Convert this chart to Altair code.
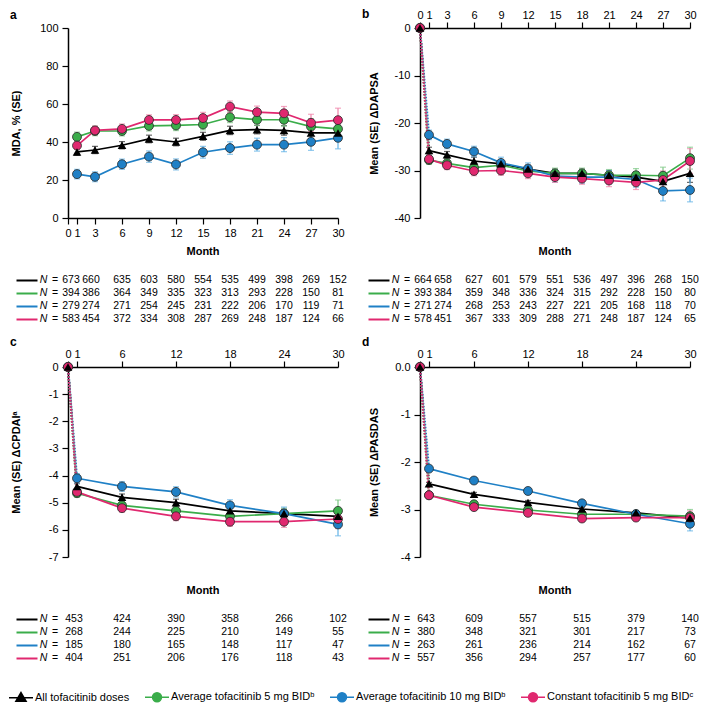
import altair as alt
import pandas as pd

FONT = "Liberation Sans"
KEYS = ["all", "avg5", "avg10", "const5"]
SERIES = [
    "All tofacitinib doses",
    "Average tofacitinib 5 mg BIDᵇ",
    "Average tofacitinib 10 mg BIDᵇ",
    "Constant tofacitinib 5 mg BIDᶜ",
]
COLORS = ["#000000", "#3aad4a", "#1f80c6", "#e0286f"]
LIGHT = ["#2b2b2b", "#7cc784", "#62b2e6", "#ef82a8"]

# ---------------- panel a: MDA, % ----------------
MONTHS_A = [1, 3, 6, 9, 12, 15, 18, 21, 24, 27, 30]
MDA_ALL = [34.8, 35.8, 38.3, 41.6, 40.0, 43.0, 46.1, 46.5, 46.1, 44.8, 44.8]
MDA_AVG5 = [42.7, 45.8, 45.8, 48.5, 48.7, 49.2, 53.0, 51.7, 51.7, 48.1, 46.9]
MDA_AVG10 = [23.1, 21.7, 28.3, 32.3, 28.2, 34.6, 36.8, 38.6, 38.6, 40.1, 42.2]
MDA_CONST5 = [38.1, 46.1, 46.9, 51.6, 51.6, 52.6, 58.6, 55.7, 55.1, 50.1, 51.5]
MDA_SE_ALL = [1.8, 1.9, 1.9, 2.0, 2.0, 2.1, 2.2, 2.2, 2.5, 3.0, 4.0]
MDA_SE_AVG5 = [2.5, 2.5, 2.6, 2.7, 2.7, 2.8, 2.8, 2.9, 3.3, 4.1, 5.5]
MDA_SE_AVG10 = [2.5, 2.6, 2.7, 3.0, 2.9, 3.1, 3.3, 3.4, 3.7, 4.5, 5.8]
MDA_SE_CONST5 = [2.0, 2.3, 2.6, 2.7, 2.8, 3.0, 3.0, 3.2, 3.6, 4.5, 6.3]
N_A_ALL = [673, 660, 635, 603, 580, 554, 535, 499, 398, 269, 152]
N_A_AVG5 = [394, 386, 364, 349, 335, 323, 313, 293, 228, 150, 81]
N_A_AVG10 = [279, 274, 271, 254, 245, 231, 222, 206, 170, 119, 71]
N_A_CONST5 = [583, 454, 372, 334, 308, 287, 269, 248, 187, 124, 66]

# ---------------- panel b: change in DAPSA ----------------
MONTHS_B = [0, 1, 3, 6, 9, 12, 15, 18, 21, 24, 27, 30]
DAPSA_ALL = [0, -25.8, -26.7, -28.0, -28.6, -29.7, -30.6, -30.6, -31.0, -31.4, -32.3, -30.6]
DAPSA_AVG5 = [0, -27.8, -28.5, -29.4, -28.9, -30.1, -30.6, -30.6, -31.0, -31.0, -31.1, -27.4]
DAPSA_AVG10 = [0, -22.5, -24.4, -26.0, -28.4, -29.6, -31.2, -31.4, -31.4, -31.9, -34.3, -34.1]
DAPSA_CONST5 = [0, -27.6, -28.9, -30.1, -30.0, -30.6, -31.4, -31.7, -32.1, -32.5, -32.0, -28.0]
DAPSA_SE_ALL = [0, 0.7, 0.7, 0.8, 0.8, 0.8, 0.9, 0.9, 1.0, 1.1, 1.4, 1.9]
DAPSA_SE_AVG5 = [0, 0.9, 0.9, 1.0, 1.0, 1.1, 1.1, 1.1, 1.2, 1.4, 1.8, 2.3]
DAPSA_SE_AVG10 = [0, 1.0, 1.0, 1.1, 1.2, 1.2, 1.3, 1.3, 1.4, 1.6, 2.1, 2.5]
DAPSA_SE_CONST5 = [0, 0.7, 0.9, 1.0, 1.0, 1.1, 1.1, 1.2, 1.3, 1.5, 1.9, 2.6]
N_B_ALL = [664, 658, 627, 601, 579, 551, 536, 497, 396, 268, 150]
N_B_AVG5 = [393, 384, 359, 348, 336, 324, 315, 292, 228, 150, 80]
N_B_AVG10 = [271, 274, 268, 253, 243, 227, 221, 205, 168, 118, 70]
N_B_CONST5 = [578, 451, 367, 333, 309, 288, 271, 248, 187, 124, 65]

# ---------------- panel c: change in CPDAI ----------------
MONTHS_CD = [0, 1, 6, 12, 18, 24, 30]
CPDAI_ALL = [0, -4.4, -4.8, -5.0, -5.3, -5.4, -5.5]
CPDAI_AVG5 = [0, -4.65, -5.1, -5.3, -5.5, -5.4, -5.3]
CPDAI_AVG10 = [0, -4.1, -4.4, -4.6, -5.1, -5.4, -5.8]
CPDAI_CONST5 = [0, -4.6, -5.2, -5.5, -5.7, -5.7, -5.6]
CPDAI_SE_ALL = [0, 0.10, 0.12, 0.13, 0.14, 0.16, 0.22]
CPDAI_SE_AVG5 = [0, 0.14, 0.15, 0.16, 0.17, 0.20, 0.40]
CPDAI_SE_AVG10 = [0, 0.17, 0.18, 0.19, 0.21, 0.24, 0.42]
CPDAI_SE_CONST5 = [0, 0.12, 0.15, 0.16, 0.17, 0.21, 0.35]
N_C_ALL = [453, 424, 390, 358, 266, 102]
N_C_AVG5 = [268, 244, 225, 210, 149, 55]
N_C_AVG10 = [185, 180, 165, 148, 117, 47]
N_C_CONST5 = [404, 251, 206, 176, 118, 43]

# ---------------- panel d: change in PASDAS ----------------
PASDAS_ALL = [0, -2.46, -2.68, -2.85, -2.99, -3.07, -3.18]
PASDAS_AVG5 = [0, -2.70, -2.89, -3.01, -3.10, -3.10, -3.14]
PASDAS_AVG10 = [0, -2.14, -2.39, -2.61, -2.87, -3.10, -3.30]
PASDAS_CONST5 = [0, -2.70, -2.95, -3.07, -3.19, -3.17, -3.17]
PASDAS_SE_ALL = [0, 0.03, 0.04, 0.04, 0.04, 0.05, 0.08]
PASDAS_SE_AVG5 = [0, 0.04, 0.05, 0.05, 0.05, 0.07, 0.14]
PASDAS_SE_AVG10 = [0, 0.05, 0.05, 0.05, 0.06, 0.08, 0.15]
PASDAS_SE_CONST5 = [0, 0.04, 0.05, 0.05, 0.06, 0.07, 0.14]
N_D_ALL = [643, 609, 557, 515, 379, 140]
N_D_AVG5 = [380, 348, 321, 301, 217, 73]
N_D_AVG10 = [263, 261, 236, 214, 162, 67]
N_D_CONST5 = [557, 356, 294, 257, 177, 60]

TICKS_A = [0, 1, 3, 6, 9, 12, 15, 18, 21, 24, 27, 30]
TICKS_CD = [0, 1, 6, 12, 18, 24, 30]

W, H = 270, 190

# legend symbols (scaled by 6 px per unit): a line with the marker on it
CIRCLE_SYM = ("M-1,0H0.25M1.75,0H3M0.25,0A0.75,0.75,0,1,1,1.75,0"
              "A0.75,0.75,0,1,1,0.25,0Z")
TRI_SYM = "M-1,0H3M1,-0.85L1.85,0.6L0.15,0.6Z"
SHAPES = [TRI_SYM, CIRCLE_SYM, CIRCLE_SYM, CIRCLE_SYM]


def long_df(months, vals, ses):
    rows = []
    for k, v_list, e_list in zip(KEYS, vals, ses):
        for m, v, e in zip(months, v_list, e_list):
            rows.append({"key": k, "month": m, "value": v, "se": e})
    return pd.DataFrame(rows)


def panel(df, ydomain, yticks, ytitle, title_x, xticks, xorient, letter,
          letter_offset, ylabel_expr=None):
    x_axis = alt.Axis(values=xticks, orient=xorient, title=None, tickSize=6,
                      labelPadding=2 if xorient == "top" else 3,
                      labelFlush=False, labelOverlap=False, grid=False)
    y_kw = dict(values=yticks, title=ytitle, tickSize=6, labelPadding=4,
                titleX=title_x, titleBaseline="middle", grid=False,
                labelOverlap=False)
    if ylabel_expr:
        y_kw["labelExpr"] = ylabel_expr
    y_axis = alt.Axis(**y_kw)
    X = alt.X("month:Q", scale=alt.Scale(domain=[0, 30], nice=False, zero=False),
              axis=x_axis)
    Y = alt.Y("value:Q", scale=alt.Scale(domain=ydomain, nice=False, zero=False),
              axis=y_axis)
    base = alt.Chart(df)
    sel = lambda k, extra="true": base.transform_filter(
        f"datum.key == '{k}' && ({extra})")
    layers = []
    for k, lc in zip(KEYS, LIGHT):
        layers.append(
            sel(k, "datum.month >= 1")
            .mark_errorbar(ticks=True, size=6, thickness=1.2, color=lc)
            .encode(x=X, y=Y, yError="se:Q")
        )
    for k, c in zip(KEYS, COLORS):
        layers.append(
            sel(k, "datum.month <= 1")
            .mark_line(strokeDash=[1.6, 1.4], strokeWidth=2.2, color=c)
            .encode(x=X, y=Y)
        )
    for k, c in zip(KEYS, COLORS):
        layers.append(
            sel(k, "datum.month >= 1")
            .mark_line(strokeWidth=1.7, color=c)
            .encode(x=X, y=Y)
        )
    for k, c in zip(KEYS[1:], COLORS[1:]):
        layers.append(
            sel(k)
            .mark_point(shape="circle", filled=True, size=80, opacity=1,
                        fill=c, stroke="#2a2a2a", strokeWidth=0.8)
            .encode(x=X, y=Y)
        )
    layers.append(
        sel(KEYS[0])
        .mark_point(shape="triangle-up", filled=True, size=75, opacity=1,
                    color=COLORS[0])
        .encode(x=X, y=Y)
    )
    return alt.layer(*layers).properties(
        width=W, height=H,
        title=alt.TitleParams(letter, anchor="start", frame="group", dx=-58,
                              fontSize=12, fontWeight="bold", font=FONT,
                              baseline="alphabetic", offset=letter_offset),
    )


SWATCH_COND = {
    "condition": [
        {"test": "datum.value === 'avg5'", "value": COLORS[1]},
        {"test": "datum.value === 'avg10'", "value": COLORS[2]},
        {"test": "datum.value === 'const5'", "value": COLORS[3]},
    ],
    "value": COLORS[0],
}


def table(months, ns, crowded, with_legend=False):
    rows = []
    for k, lab, n_list in zip(KEYS, SERIES, ns):
        for i, (m, n) in enumerate(zip(months, n_list)):
            rows.append({"key": k, "label": lab, "month": m, "n": n, "col": i})
    df = pd.DataFrame(rows)
    xscale = alt.Scale(domain=[0, 30], nice=False, zero=False)
    X = alt.X("month:Q", scale=xscale, axis=None)
    Y = alt.Y("key:N",
              scale=alt.Scale(type="point", domain=KEYS, range=[22, 61],
                              padding=0),
              axis=alt.Axis(title=None, domain=False, offset=31, tickSize=21,
                            tickWidth=2, tickColor=SWATCH_COND, labels=False))
    base = alt.Chart(df)
    txt = dict(fontSize=10.5, font=FONT, color="black", baseline="middle")
    first = base.transform_filter("datum.col == 0")
    layers = [
        first.mark_text(text="N", fontStyle="italic", dx=-24.5, **txt)
        .encode(x=alt.X(datum=0, scale=xscale, axis=None), y=Y),
        first.mark_text(text="=", dx=-13, **txt)
        .encode(x=alt.X(datum=0, scale=xscale, axis=None), y=Y),
    ]
    if crowded:
        layers += [
            first.mark_text(dx=-6, **txt).encode(x=X, y=Y, text="n:Q"),
            base.transform_filter("datum.col == 1").mark_text(dx=-4, **txt)
            .encode(x=X, y=Y, text="n:Q"),
            base.transform_filter("datum.col >= 2").mark_text(**txt)
            .encode(x=X, y=Y, text="n:Q"),
        ]
    else:
        layers += [
            first.mark_text(dx=-3, **txt).encode(x=X, y=Y, text="n:Q"),
            base.transform_filter("datum.col >= 1").mark_text(**txt)
            .encode(x=X, y=Y, text="n:Q"),
        ]
    if with_legend:
        leg = alt.Legend(orient="none", legendX=-60, legendY=93,
                         direction="horizontal", columns=4, title=None,
                         symbolSize=144, symbolStrokeWidth=1.5,
                         labelFont=FONT, labelFontSize=11, labelColor="black",
                         labelOffset=13, columnPadding=12, labelLimit=0,
                         padding=0, symbolOpacity=1)
        layers.append(
            base.transform_filter("false")
            .mark_point(filled=True, opacity=1)
            .encode(
                fill=alt.Fill("label:N", scale=alt.Scale(domain=SERIES, range=COLORS),
                              legend=leg),
                stroke=alt.Stroke("label:N",
                                  scale=alt.Scale(domain=SERIES, range=COLORS),
                                  legend=leg),
                shape=alt.Shape("label:N", scale=alt.Scale(domain=SERIES, range=SHAPES),
                                legend=leg),
            )
        )
    return alt.layer(*layers).properties(
        width=W, height=69,
        title=alt.TitleParams("Month", anchor="middle", fontSize=11,
                              fontWeight="bold", font=FONT, offset=1),
    )


df_a = long_df(MONTHS_A, [MDA_ALL, MDA_AVG5, MDA_AVG10, MDA_CONST5],
               [MDA_SE_ALL, MDA_SE_AVG5, MDA_SE_AVG10, MDA_SE_CONST5])
df_b = long_df(MONTHS_B, [DAPSA_ALL, DAPSA_AVG5, DAPSA_AVG10, DAPSA_CONST5],
               [DAPSA_SE_ALL, DAPSA_SE_AVG5, DAPSA_SE_AVG10, DAPSA_SE_CONST5])
df_c = long_df(MONTHS_CD, [CPDAI_ALL, CPDAI_AVG5, CPDAI_AVG10, CPDAI_CONST5],
               [CPDAI_SE_ALL, CPDAI_SE_AVG5, CPDAI_SE_AVG10, CPDAI_SE_CONST5])
df_d = long_df(MONTHS_CD, [PASDAS_ALL, PASDAS_AVG5, PASDAS_AVG10, PASDAS_CONST5],
               [PASDAS_SE_ALL, PASDAS_SE_AVG5, PASDAS_SE_AVG10, PASDAS_SE_CONST5])

minus_expr = "toString(datum.value)"

p_a = panel(df_a, [0, 100], [0, 20, 40, 60, 80, 100], "MDA, % (SE)", -52,
            TICKS_A, "bottom", "a", -9)
p_b = panel(df_b, [-40, 0], [-40, -30, -20, -10, 0], "Mean (SE) ΔDAPSA", -46,
            TICKS_A, "top", "b", -21, ylabel_expr=minus_expr)
p_c = panel(df_c, [-7, 0], [-7, -6, -5, -4, -3, -2, -1, 0], "Mean (SE) ΔCPDAIᵃ",
            -52, TICKS_CD, "top", "c", -10, ylabel_expr=minus_expr)
p_d = panel(df_d, [-4, 0], [-4, -3, -2, -1, 0], "Mean (SE) ΔPASDAS", -46,
            TICKS_CD, "top", "d", -10,
            ylabel_expr="datum.value == 0 ? '0.0' : toString(datum.value)")

t_a = table(MONTHS_A, [N_A_ALL, N_A_AVG5, N_A_AVG10, N_A_CONST5], True)
t_b = table(MONTHS_A, [N_B_ALL, N_B_AVG5, N_B_AVG10, N_B_CONST5], True)
t_c = table(MONTHS_CD[1:], [N_C_ALL, N_C_AVG5, N_C_AVG10, N_C_CONST5], False,
            with_legend=True)
t_d = table(MONTHS_CD[1:], [N_D_ALL, N_D_AVG5, N_D_AVG10, N_D_CONST5], False)

chart = alt.concat(
    p_a, p_b, t_a, t_b, p_c, p_d, t_c, t_d,
    columns=2, bounds="flush", spacing={"row": 40, "column": 82},
).resolve_scale(
    fill="independent", stroke="independent", shape="independent",
).resolve_legend(
    fill="independent", stroke="independent", shape="independent",
).properties(padding=0).configure(
    font=FONT,
).configure_view(stroke=None).configure_axis(
    labelFont=FONT, labelFontSize=11, labelColor="black",
    titleFont=FONT, titleFontSize=11, titleFontWeight="bold", titleColor="black",
    domainColor="black", domainWidth=1.5, tickColor="black", tickWidth=1.2,
)

chart.save("out.html", embed_options={"renderer": "svg", "actions": False})
